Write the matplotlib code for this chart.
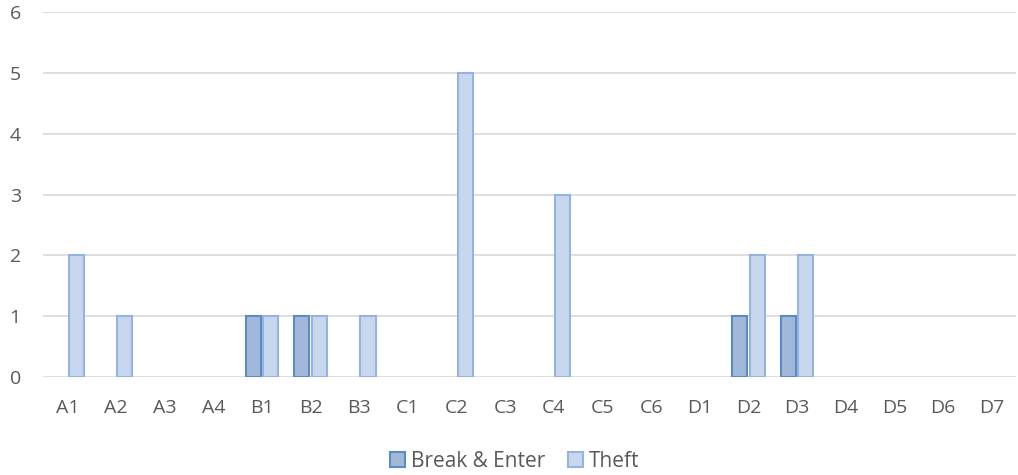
import matplotlib
matplotlib.use("Agg")
import matplotlib.pyplot as plt
import numpy as np

categories = ["A1", "A2", "A3", "A4", "B1", "B2", "B3", "C1", "C2", "C3",
              "C4", "C5", "C6", "D1", "D2", "D3", "D4", "D5", "D6", "D7"]
break_enter = [0, 0, 0, 0, 1, 1, 0, 0, 0, 0, 0, 0, 0, 0, 1, 1, 0, 0, 0, 0]
theft = [2, 1, 0, 0, 1, 1, 1, 0, 5, 0, 3, 0, 0, 0, 2, 2, 0, 0, 0, 0]
yticks = [0, 1, 2, 3, 4, 5, 6]

plt.rcParams['font.family'] = ['Open Sans', 'DejaVu Sans']

fig = plt.figure(figsize=(10.18, 4.75), dpi=100)
ax = fig.add_axes([43/1018, 1 - 377/475, (1016 - 43)/1018, (377 - 12)/475])

x = np.arange(len(categories))
w = 0.31
off = 0.18
be = np.array(break_enter, dtype=float)
th = np.array(theft, dtype=float)
mb = be > 0
mt = th > 0
ax.bar(x[mb] - off, be[mb], width=w, color="#a2b8d8", edgecolor="#5a8bc4",
       linewidth=1.5, label="Break & Enter", zorder=3)
ax.bar(x[mt] + off, th[mt], width=w, color="#c7d7ee", edgecolor="#94b3e0",
       linewidth=1.5, label="Theft", zorder=3)

ax.set_xlim(-0.5, len(categories) - 0.5)
ax.set_ylim(0, 6)
ax.set_yticks(yticks)
ax.set_xticks(x)
ax.set_xticklabels(categories)
ax.yaxis.grid(True, color="#d9d9d9", linewidth=1.2, zorder=0)
ax.set_axisbelow(True)
for s in ax.spines.values():
    s.set_visible(False)
ax.tick_params(axis="both", length=0, colors="#595959", labelsize=14)
ax.tick_params(axis="y", pad=16)
ax.tick_params(axis="x", pad=16)

leg = fig.legend(loc="lower center", bbox_to_anchor=(0.506, -0.033), ncol=2,
                 frameon=False, fontsize=15, handlelength=0.7, handleheight=0.7,
                 handletextpad=0.3, columnspacing=1.1)
for t in leg.get_texts():
    t.set_color("#595959")

fig.savefig("out.png", dpi=100)
